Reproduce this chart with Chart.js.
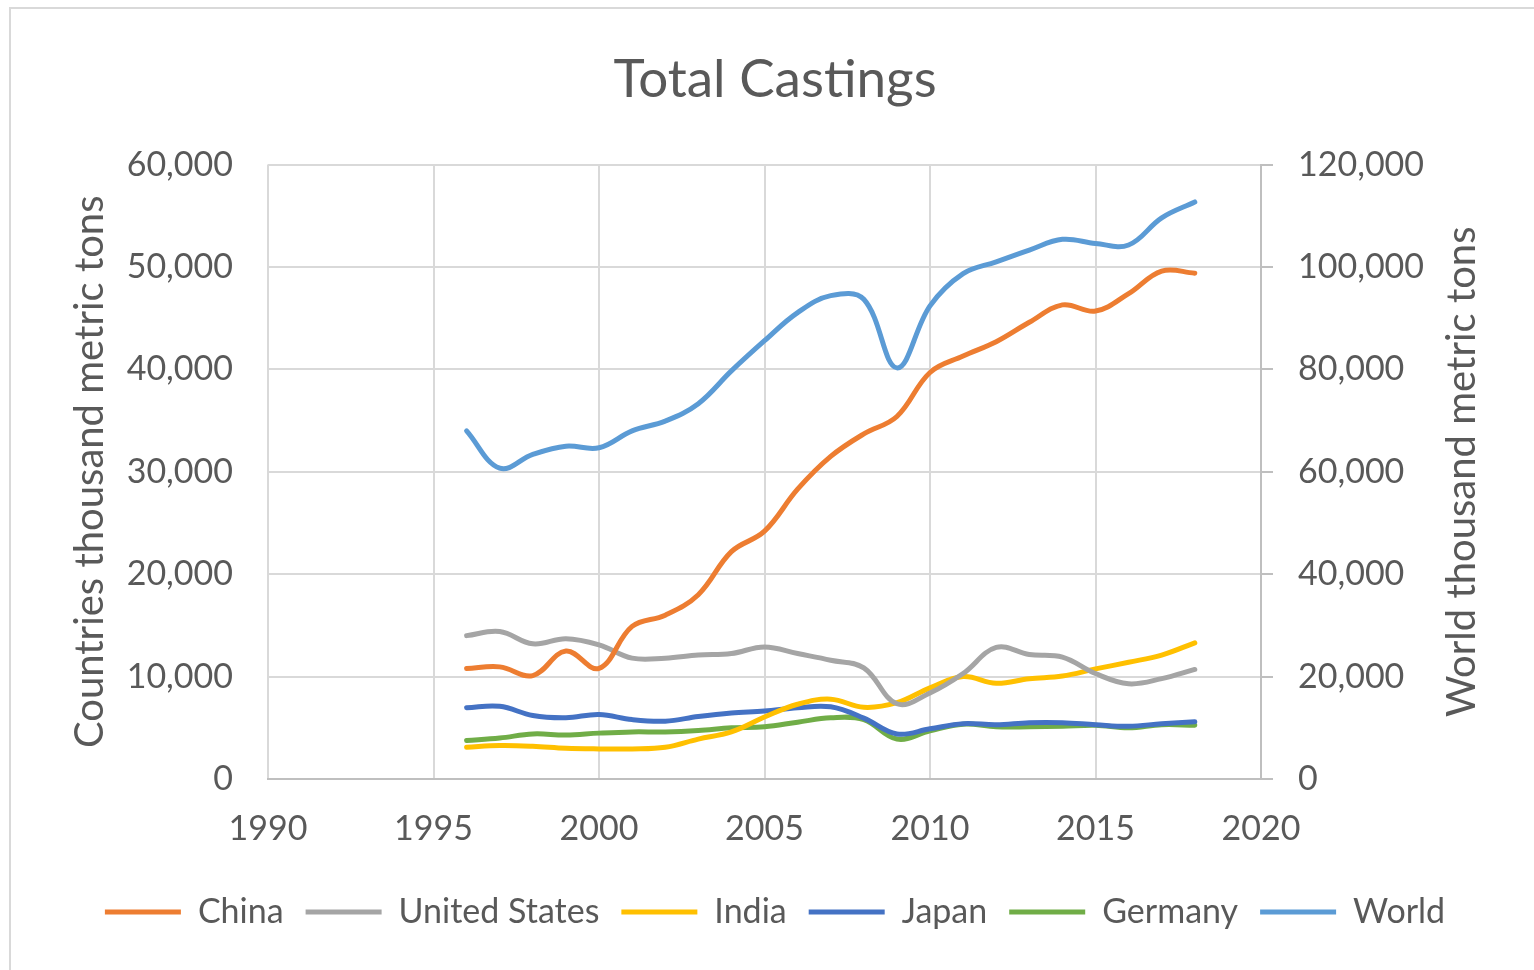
<!DOCTYPE html>
<html>
<head>
<meta charset="utf-8">
<script src="https://cdn.jsdelivr.net/npm/chart.js@4.4.1/dist/chart.umd.min.js"></script>
<style>
html,body{margin:0;padding:0;background:#fff;}
#wrap{width:1534px;height:970px;position:relative;}
</style>
</head>
<body>
<div id="wrap"><canvas id="c" width="1534" height="970"></canvas></div>
<script>
const years = [1996,1997,1998,1999,2000,2001,2002,2003,2004,2005,2006,2007,2008,2009,2010,2011,2012,2013,2014,2015,2016,2017,2018];
const china = [10780,10950,10100,12500,10800,14900,16000,18000,22200,24200,28300,31500,33700,35400,39700,41300,42700,44600,46300,45700,47400,49600,49400];
const unitedStates = [14000,14400,13200,13700,13100,11800,11800,12100,12250,12900,12250,11600,10850,7350,8400,10300,12850,12150,11900,10300,9300,9800,10700];
const india = [3100,3270,3200,3000,2940,2940,3100,3900,4600,6050,7300,7800,7000,7450,8900,10000,9350,9800,10050,10750,11400,12100,13300];
const japan = [6960,7100,6200,5980,6300,5800,5650,6100,6440,6630,6960,7050,5950,4400,4900,5400,5300,5500,5500,5300,5150,5400,5600];
const germany = [3760,4000,4400,4300,4480,4600,4600,4740,5000,5100,5550,5980,5800,3900,4700,5350,5100,5100,5150,5250,5000,5300,5250];
const world = [68000,60700,63400,65000,64700,68000,69900,73300,79700,85600,91100,94400,93700,80300,92400,98700,101000,103300,105400,104600,104300,109600,112700];

const xTicks = [1990,1995,2000,2005,2010,2015,2020];
const leftTicks = [0,10000,20000,30000,40000,50000,60000];
const rightTicks = [0,20000,40000,60000,80000,100000,120000];

const FONT = 'Lato, "Open Sans", sans-serif';
const TXT = '#595959';
const GRID = '#d9d9d9';
const AXIS = '#bfbfbf';

function pts(vals){ return years.map((y,i)=>({x:y,y:vals[i]})); }
function ds(label, vals, color, axis){
  return {label, data:pts(vals), borderColor:color, backgroundColor:color, yAxisID:axis,
    borderWidth:5, pointRadius:0, pointHoverRadius:0, tension:0.38, fill:false,
    borderCapStyle:'round', borderJoinStyle:'round'};
}
const fmt = v => Number(v).toLocaleString('en-US');

const frame = {
  id:'frame',
  beforeDraw(chart){
    const c = chart.ctx;
    c.save();
    c.fillStyle='#fff'; c.fillRect(0,0,chart.width,chart.height);
    c.strokeStyle=GRID; c.lineWidth=2;
    c.beginPath(); c.moveTo(10,970); c.lineTo(10,8); c.lineTo(1534,8); c.stroke();
    c.restore();
  },
  afterDraw(chart){
    const c = chart.ctx;
    const ya = chart.scales.y;
    c.save();
    c.fillStyle=TXT; c.font='40px '+FONT;
    c.textAlign='center'; c.textBaseline='middle';
    c.translate(1462,(ya.top+ya.bottom)/2);
    c.rotate(-Math.PI/2);
    c.fillText('World thousand metric tons',0,0);
    c.restore();
  }
};

new Chart(document.getElementById('c'), {
  type:'line',
  data:{datasets:[
    ds('China', china, '#ED7D31','y'),
    ds('United States', unitedStates, '#A5A5A5','y'),
    ds('India', india, '#FFC000','y'),
    ds('Japan', japan, '#4472C4','y'),
    ds('Germany', germany, '#70AD47','y'),
    ds('World', world, '#5B9BD5','y2')
  ]},
  options:{
    responsive:false, animation:false, maintainAspectRatio:false,
    layout:{padding:{left:36,right:20,top:0,bottom:31}},
    plugins:{
      title:{display:true,text:'Total Castings',color:TXT,font:{family:FONT,size:53,weight:'normal'},padding:{top:48,bottom:53}},
      legend:{position:'bottom',labels:{color:TXT,font:{family:FONT,size:34},usePointStyle:true,pointStyle:'line',pointStyleWidth:76,boxWidth:76,boxHeight:4,padding:22}},
      tooltip:{enabled:false}
    },
    scales:{
      x:{type:'linear',min:1990,max:2020,
        afterBuildTicks(s){ s.ticks = xTicks.map(v=>({value:v})); },
        afterFit(s){ s.height = 94; },
        ticks:{color:TXT,font:{family:FONT,size:34},padding:30,maxRotation:0,callback:v=>String(v)},
        grid:{color:GRID,lineWidth:2,drawTicks:false},
        border:{color:AXIS,width:2}
      },
      y:{type:'linear',position:'left',min:0,max:60000,
        afterBuildTicks(s){ s.ticks = leftTicks.map(v=>({value:v})); },
        afterFit(s){ s.width = 232; },
        ticks:{color:TXT,font:{family:FONT,size:34},padding:35,callback:v=>fmt(v)},
        grid:{color:GRID,lineWidth:2,drawTicks:false},
        border:{display:false},
        title:{display:true,text:'Countries thousand metric tons',color:TXT,font:{family:FONT,size:40},padding:{top:30,bottom:0}}
      },
      y2:{type:'linear',position:'right',min:0,max:120000,
        afterBuildTicks(s){ s.ticks = rightTicks.map(v=>({value:v})); },
        afterFit(s){ s.width = 253; },
        ticks:{color:TXT,font:{family:FONT,size:34},padding:25,callback:v=>fmt(v)},
        grid:{drawOnChartArea:false,color:AXIS,lineWidth:2,drawTicks:true,tickLength:12},
        border:{color:AXIS,width:2}
      }
    }
  },
  plugins:[frame]
});
</script>
</body>
</html>
